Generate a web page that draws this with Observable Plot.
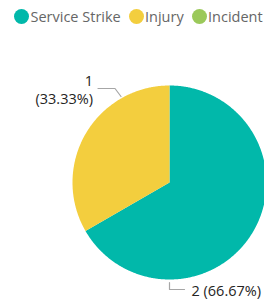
<!DOCTYPE html>
<html>
<head>
<meta charset="utf-8">
<script src="https://cdn.jsdelivr.net/npm/d3@7"></script>
<script src="https://cdn.jsdelivr.net/npm/@observablehq/plot@0.6"></script>
<style>
  html, body { margin: 0; padding: 0; background: #fff; }
  #wrap { width: 264px; height: 303px; position: relative; overflow: hidden; }
  #legend { position: relative; height: 32px; width: 264px; font-family: "Open Sans", sans-serif; font-size: 14.5px; color: #666; }
  .item { position: absolute; top: 7px; display: flex; align-items: center; white-space: nowrap; }
  .dot { width: 15px; height: 15px; border-radius: 50%; margin-right: 1.5px; }
  svg { display: block; }
</style>
</head>
<body>
<div id="wrap">
  <div id="legend"></div>
  <div id="chart"></div>
</div>
<script>
const categories = ["Service Strike", "Injury", "Incident"];
const values = [2, 1, 0];
const colors = ["#01B8AA", "#F3CE3E", "#9BC95A"];

// layout
const W = 264, H = 271;
const cx = 169, cy = 150, R = 97;
const labelAngles = [180, 330]; // leader anchor angles (deg, clockwise from top) for the two visible slices
const legendLeft = [14, 128.5, 191.5];

// legend
const legend = document.getElementById("legend");
categories.forEach((c, i) => {
  const it = document.createElement("div");
  it.className = "item";
  it.style.left = legendLeft[i] + "px";
  it.innerHTML = `<span class="dot" style="background:${colors[i]}"></span><span>${c}</span>`;
  legend.appendChild(it);
});

const total = d3.sum(values);
const arcs = d3.pie().sort(null).value(d => d)(values);
const pt = (a, r) => [cx + r * Math.sin(a), cy - r * Math.cos(a)];

const slices = [];
arcs.forEach((a, i) => {
  if (a.value <= 0) return;
  const pts = [{x: cx, y: cy, k: i}];
  const n = Math.max(2, Math.ceil((a.endAngle - a.startAngle) / (Math.PI / 360)));
  for (let j = 0; j <= n; j++) {
    const t = a.startAngle + (a.endAngle - a.startAngle) * j / n;
    const [x, y] = pt(t, R);
    pts.push({x, y, k: i});
  }
  pts.push({x: cx, y: cy, k: i});
  slices.push(pts);
});

// labels & leaders
const visible = arcs.map((a, i) => ({a, i})).filter(d => d.a.value > 0);
const leaders = [];
const labels = [];
visible.forEach((d, j) => {
  const ang = labelAngles[j] * Math.PI / 180;
  const [ax, ay] = pt(ang, R);
  const pctTxt = (d.a.value / total * 100).toFixed(2) + "%";
  if (Math.sin(ang) >= -0.01 && Math.cos(ang) < 0) {
    const ex = ax, ey = ay + 10;
    leaders.push([{x: ax, y: ay + 3}, {x: ex, y: ey}, {x: ex + 15, y: ey}].map(p => ({...p, k: j})));
    labels.push({x: ex + 22, y: ey + 2, text: `${d.a.value} (${pctTxt})`, anchor: "start"});
  } else {
    const ex = ax - 6, ey = ay - 10;
    leaders.push([{x: ax, y: ay - 2}, {x: ex, y: ey}, {x: ex - 17, y: ey}].map(p => ({...p, k: j})));
    labels.push({x: ex - 22, y: ey + 1, text: `${d.a.value}\n(${pctTxt})`, anchor: "end"});
  }
});

const marks = [];
slices.forEach(s => {
  marks.push(Plot.line(s, {x: "x", y: "y", fill: colors[s[0].k], stroke: "none", curve: "linear-closed"}));
});
leaders.forEach(l => marks.push(Plot.line(l, {x: "x", y: "y", stroke: "#A6A6A6", strokeWidth: 1.2})));
marks.push(Plot.text(labels.filter(l => l.anchor === "end"), {x: "x", y: "y", text: "text", textAnchor: "end", fill: "#252423", fontSize: 14.5, lineHeight: 1.24}));
marks.push(Plot.text(labels.filter(l => l.anchor === "start"), {x: "x", y: "y", text: "text", textAnchor: "start", fill: "#252423", fontSize: 14.5}));

const chart = Plot.plot({
  width: W, height: H,
  margin: 0,
  x: {domain: [0, W], range: [0, W], axis: null},
  y: {domain: [0, H], range: [0, H], axis: null},
  style: {fontFamily: "'Open Sans', sans-serif", background: "transparent", overflow: "visible"},
  marks
});
document.getElementById("chart").appendChild(chart);
</script>
</body>
</html>
